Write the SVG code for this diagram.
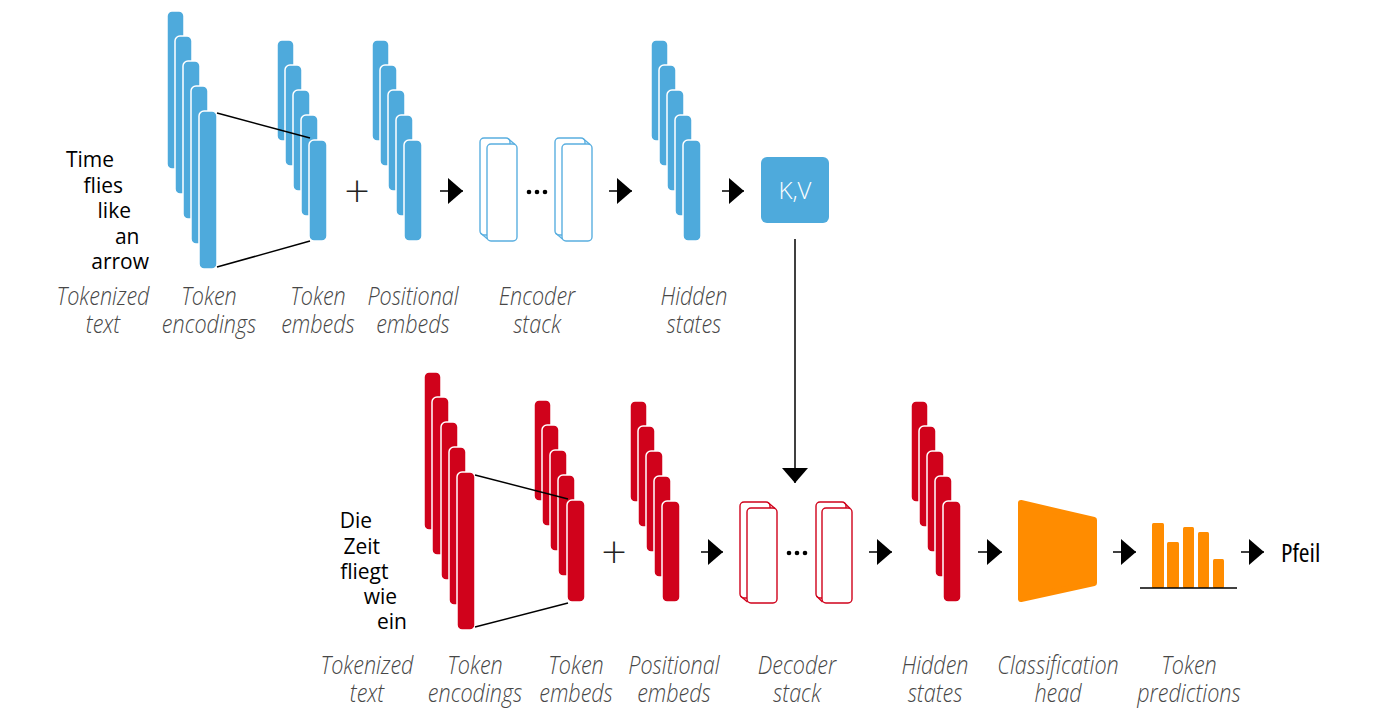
<svg xmlns="http://www.w3.org/2000/svg" width="1374" height="718" viewBox="0 0 1374 718">
<style>
.bb{fill:#4EAADC;stroke:#fff;stroke-width:1.5}
.rb{fill:#D0021B;stroke:#fff;stroke-width:1.5}
.bbox{fill:#fff;stroke:#5AAFE0;stroke-width:1.4}
.rbox{fill:#fff;stroke:#D0021B;stroke-width:1.4}
.lbl{font-family:"Open Sans",sans-serif;font-weight:300;font-style:italic;font-size:26px;fill:#474747;text-anchor:middle}
.wrd{font-family:"Open Sans",sans-serif;font-size:21px;fill:#000;text-anchor:end}
.plus{font-family:Lato,"Open Sans",sans-serif;font-weight:300;font-size:44px;fill:#222;text-anchor:middle}
.ln{stroke:#000;stroke-width:1.5;fill:none}
.arr{stroke:#000;stroke-width:1.5;fill:none;marker-end:url(#ah)}
.dot{fill:#000}
</style>
<defs>
<marker id="ah" markerUnits="userSpaceOnUse" markerWidth="16" markerHeight="28" refX="15" refY="13" orient="auto">
<path d="M0,0 L15,13 L0,26 z" fill="#000"/>
</marker>
</defs>
<rect width="1374" height="718" fill="#fff"/>

<g id="enc-input-text">
<text class="wrd"><tspan x="114" y="167">Time</tspan><tspan x="123" y="193">flies</tspan><tspan x="131" y="218">like</tspan><tspan x="139.5" y="244">an</tspan><tspan x="149" y="269">arrow</tspan></text>
</g>

<g id="enc-token-encodings">
<rect class="bb" x="167" y="11" width="17" height="158" rx="5"/>
<rect class="bb" x="175" y="36" width="17" height="158" rx="5"/>
<rect class="bb" x="183" y="61" width="17" height="158" rx="5"/>
<rect class="bb" x="191" y="86" width="17" height="158" rx="5"/>
<rect class="bb" x="199" y="111" width="18" height="158" rx="5"/>
</g>

<g id="enc-token-embeds">
<rect class="bb" x="277" y="40" width="17" height="101" rx="5"/>
<rect class="bb" x="285" y="65" width="17" height="101" rx="5"/>
<rect class="bb" x="293" y="90" width="17" height="101" rx="5"/>
<rect class="bb" x="301" y="115" width="17" height="101" rx="5"/>
<rect class="bb" x="309" y="140" width="18" height="101" rx="5"/>
</g>

<g id="enc-plus"><text class="plus" x="357" y="206">+</text></g>

<g id="enc-positional-embeds">
<rect class="bb" x="372" y="40" width="17" height="101" rx="5"/>
<rect class="bb" x="380" y="65" width="17" height="101" rx="5"/>
<rect class="bb" x="388" y="90" width="17" height="101" rx="5"/>
<rect class="bb" x="396" y="115" width="17" height="101" rx="5"/>
<rect class="bb" x="404" y="140" width="18" height="101" rx="5"/>
</g>

<g id="encoder-stack">
<rect class="bbox" x="480" y="138" width="30" height="97" rx="4"/>
<rect class="bbox" x="487" y="144" width="30" height="97" rx="4"/>
<path class="bbox" d="M508,138.5 L515,144.5 M480.5,233 L487.5,239"/>
<circle class="dot" cx="529" cy="192" r="2.3"/>
<circle class="dot" cx="537" cy="192" r="2.3"/>
<circle class="dot" cx="545" cy="192" r="2.3"/>
<rect class="bbox" x="555" y="138" width="30" height="97" rx="4"/>
<rect class="bbox" x="562" y="144" width="30" height="97" rx="4"/>
<path class="bbox" d="M583,138.5 L590,144.5 M555.5,233 L562.5,239"/>
</g>

<g id="enc-hidden-states">
<rect class="bb" x="651" y="40" width="17" height="101" rx="5"/>
<rect class="bb" x="659" y="65" width="17" height="101" rx="5"/>
<rect class="bb" x="667" y="90" width="17" height="101" rx="5"/>
<rect class="bb" x="675" y="115" width="17" height="101" rx="5"/>
<rect class="bb" x="683" y="140" width="18" height="101" rx="5"/>
</g>

<g id="kv">
<rect x="761" y="157" width="68" height="66" rx="6" fill="#4EAADC"/>
<text x="795" y="199" font-family="'Open Sans',sans-serif" font-weight="300" font-size="24" fill="#fff" text-anchor="middle">K,V</text>
</g>

<g id="enc-labels" transform="scale(0.83,1)">
<text class="lbl"><tspan x="124.1" y="305">Tokenized</tspan><tspan x="124.1" y="333">text</tspan></text>
<text class="lbl"><tspan x="251.8" y="305">Token</tspan><tspan x="251.8" y="333">encodings</tspan></text>
<text class="lbl"><tspan x="383.1" y="305">Token</tspan><tspan x="383.1" y="333">embeds</tspan></text>
<text class="lbl"><tspan x="497.6" y="305">Positional</tspan><tspan x="497.6" y="333">embeds</tspan></text>
<text class="lbl"><tspan x="647" y="305">Encoder</tspan><tspan x="647" y="333">stack</tspan></text>
<text class="lbl"><tspan x="836.1" y="305">Hidden</tspan><tspan x="836.1" y="333">states</tspan></text>
</g>

<g id="dec-input-text">
<text class="wrd"><tspan x="372" y="528">Die</tspan><tspan x="380" y="554">Zeit</tspan><tspan x="388.5" y="579">fliegt</tspan><tspan x="397" y="604">wie</tspan><tspan x="407" y="629">ein</tspan></text>
</g>

<g id="dec-token-encodings">
<rect class="rb" x="424" y="372" width="17" height="158" rx="5"/>
<rect class="rb" x="432" y="397" width="17" height="158" rx="5"/>
<rect class="rb" x="441" y="422" width="17" height="158" rx="5"/>
<rect class="rb" x="449" y="447" width="17" height="158" rx="5"/>
<rect class="rb" x="457" y="472" width="18" height="158" rx="5"/>
</g>

<g id="dec-token-embeds">
<rect class="rb" x="534" y="400" width="17" height="101" rx="5"/>
<rect class="rb" x="542" y="425" width="17" height="101" rx="5"/>
<rect class="rb" x="550" y="450" width="17" height="101" rx="5"/>
<rect class="rb" x="558" y="475" width="17" height="101" rx="5"/>
<rect class="rb" x="567" y="500" width="18" height="102" rx="5"/>
</g>

<g id="dec-plus"><text class="plus" x="614" y="567">+</text></g>

<g id="dec-positional-embeds">
<rect class="rb" x="630" y="401" width="17" height="101" rx="5"/>
<rect class="rb" x="638" y="426" width="17" height="101" rx="5"/>
<rect class="rb" x="646" y="451" width="17" height="101" rx="5"/>
<rect class="rb" x="654" y="476" width="17" height="101" rx="5"/>
<rect class="rb" x="662" y="501" width="18" height="101" rx="5"/>
</g>

<g id="decoder-stack">
<rect class="rbox" x="740" y="502" width="30" height="96" rx="4"/>
<rect class="rbox" x="747" y="508" width="30" height="95" rx="4"/>
<path class="rbox" d="M768,502.5 L775,508.5 M740.5,596 L747.5,602"/>
<circle class="dot" cx="789" cy="553" r="2.3"/>
<circle class="dot" cx="797" cy="553" r="2.3"/>
<circle class="dot" cx="805" cy="553" r="2.3"/>
<rect class="rbox" x="816" y="502" width="30" height="96" rx="4"/>
<rect class="rbox" x="822" y="508" width="30" height="95" rx="4"/>
<path class="rbox" d="M844,502.5 L850,508.5 M816.5,596 L822.5,602"/>
</g>

<g id="dec-hidden-states">
<rect class="rb" x="911" y="401" width="17" height="101" rx="5"/>
<rect class="rb" x="919" y="426" width="17" height="101" rx="5"/>
<rect class="rb" x="927" y="451" width="17" height="101" rx="5"/>
<rect class="rb" x="935" y="476" width="17" height="101" rx="5"/>
<rect class="rb" x="943" y="501" width="18" height="101" rx="5"/>
</g>

<g id="classification-head">
<path d="M1021,503 L1094,520 L1094,583 L1021,599 Z" fill="#FF8C00" stroke="#FF8C00" stroke-width="6" stroke-linejoin="round"/>
</g>

<g id="token-predictions">
<rect x="1152" y="523" width="12" height="65" fill="#FF8C00" rx="1.5"/>
<rect x="1167" y="542" width="12" height="46" fill="#FF8C00" rx="1.5"/>
<rect x="1183" y="527" width="11" height="61" fill="#FF8C00" rx="1.5"/>
<rect x="1198" y="532" width="11" height="56" fill="#FF8C00" rx="1.5"/>
<rect x="1213" y="559" width="11" height="29" fill="#FF8C00" rx="1.5"/>
<line x1="1140" y1="588" x2="1237" y2="588" stroke="#000" stroke-width="1.5"/>
</g>

<g id="output-word">
<text x="1281" y="562" font-family="'Open Sans',sans-serif" font-stretch="87.5%" font-size="26" fill="#000">Pfeil</text>
</g>

<g id="dec-labels" transform="scale(0.83,1)">
<text class="lbl"><tspan x="442.2" y="674">Tokenized</tspan><tspan x="442.2" y="702">text</tspan></text>
<text class="lbl"><tspan x="572.3" y="674">Token</tspan><tspan x="572.3" y="702">encodings</tspan></text>
<text class="lbl"><tspan x="694" y="674">Token</tspan><tspan x="694" y="702">embeds</tspan></text>
<text class="lbl"><tspan x="812" y="674">Positional</tspan><tspan x="812" y="702">embeds</tspan></text>
<text class="lbl"><tspan x="960.2" y="674">Decoder</tspan><tspan x="960.2" y="702">stack</tspan></text>
<text class="lbl"><tspan x="1126.5" y="674">Hidden</tspan><tspan x="1126.5" y="702">states</tspan></text>
<text class="lbl"><tspan x="1274.7" y="674">Classification</tspan><tspan x="1274.7" y="702">head</tspan></text>
<text class="lbl"><tspan x="1432.5" y="674">Token</tspan><tspan x="1432.5" y="702">predictions</tspan></text>
</g>

<g id="connectors">
<line class="ln" x1="217" y1="113" x2="310" y2="138"/>
<line class="ln" x1="217" y1="267" x2="310" y2="241"/>
<line class="ln" x1="475" y1="475" x2="568" y2="499"/>
<line class="ln" x1="475" y1="627" x2="568" y2="603"/>
<line class="arr" x1="440" y1="191" x2="463" y2="191"/>
<line class="arr" x1="609" y1="191" x2="632" y2="191"/>
<line class="arr" x1="722" y1="191" x2="744" y2="191"/>
<line class="arr" x1="795" y1="239" x2="795" y2="483"/>
<line class="arr" x1="701" y1="552" x2="723" y2="552"/>
<line class="arr" x1="869" y1="552" x2="892" y2="552"/>
<line class="arr" x1="978" y1="552" x2="1002" y2="552"/>
<line class="arr" x1="1113" y1="552" x2="1136" y2="552"/>
<line class="arr" x1="1241" y1="552" x2="1264" y2="552"/>
</g>
</svg>
